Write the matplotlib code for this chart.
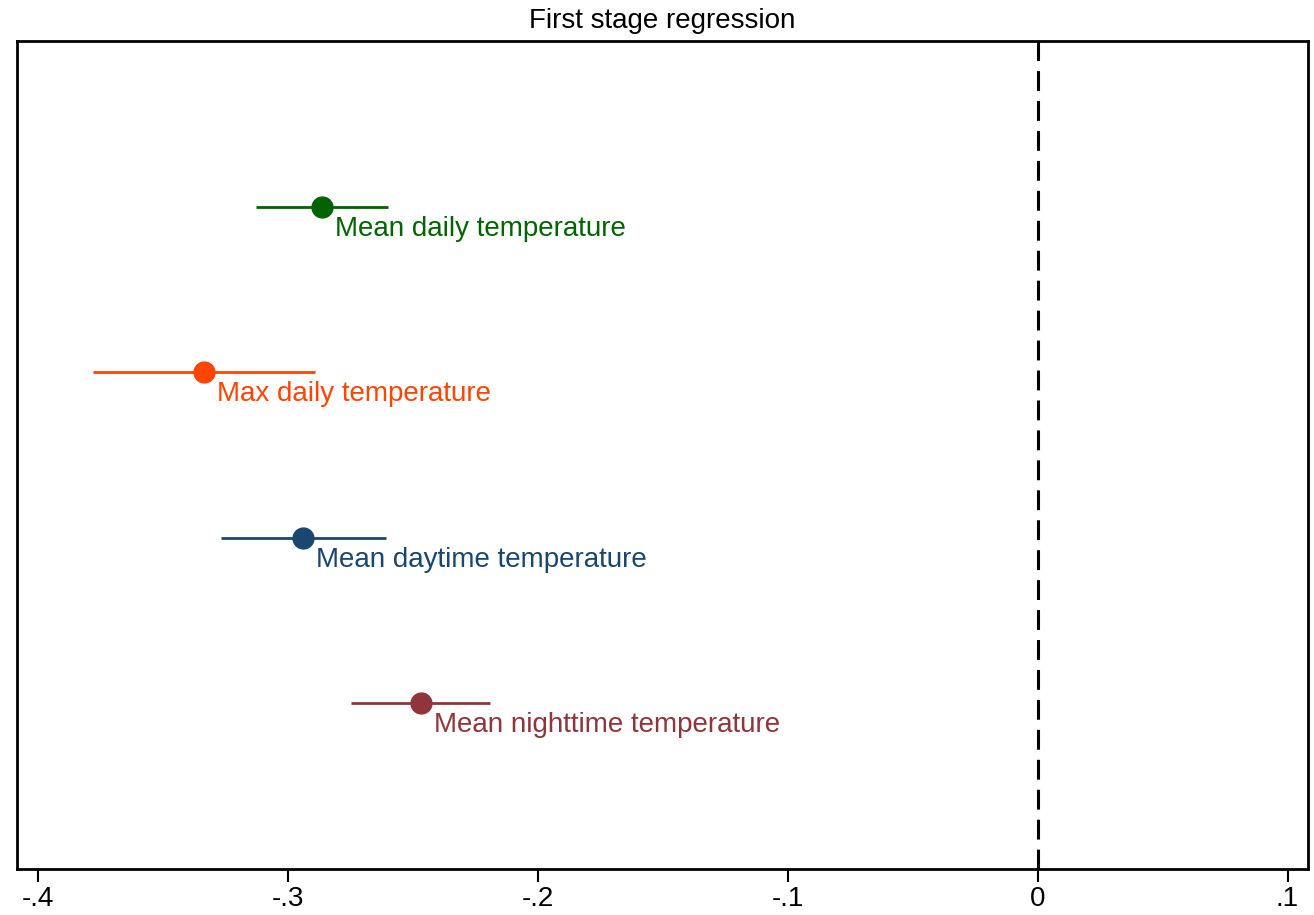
import matplotlib
matplotlib.use("Agg")
import matplotlib.pyplot as plt

plt.rcParams['font.family'] = ['Liberation Sans', 'DejaVu Sans']

# First-stage coefficients with 95% confidence intervals
labels = ["Mean daily temperature", "Max daily temperature",
          "Mean daytime temperature", "Mean nighttime temperature"]
coef = [-0.2862, -0.3334, -0.2938, -0.2466]
ci_low = [-0.3126, -0.3778, -0.3266, -0.2746]
ci_high = [-0.2598, -0.2890, -0.2606, -0.2190]
colors = ["#006400", "#ff4500", "#1a476f", "#90353b"]
ypos = [4, 3, 2, 1]

xticks = [-0.4, -0.3, -0.2, -0.1, 0.0, 0.1]
xticklabels = ["-.4", "-.3", "-.2", "-.1", "0", ".1"]

fig = plt.figure(figsize=(13.14, 9.15), dpi=100)
ax = fig.add_axes([0.01256, 0.0503, 0.9827, 0.9044])

ax.axvline(0, color="black", lw=2.2, dashes=(6.5, 3.3), zorder=1)

for lab, c, lo, hi, col, y in zip(labels, coef, ci_low, ci_high, colors, ypos):
    ax.plot([lo, hi], [y, y], color=col, lw=2.0, solid_capstyle="butt", zorder=2)
    ax.plot([c], [y], marker="o", ms=15, color=col, mec=col, zorder=3)
    ax.annotate(lab, xy=(c, y), xytext=(9.4, -15.8), textcoords="offset points",
                ha="left", va="center", color=col, fontsize=20)

ax.set_xlim(-0.4084, 0.1081)
ax.set_ylim(0, 5)
ax.set_yticks([])
ax.set_xticks(xticks)
ax.set_xticklabels(xticklabels, fontsize=20)
ax.tick_params(axis="x", length=9.4, width=1.5, pad=3, direction="out")

for s in ax.spines.values():
    s.set_linewidth(2.0)
    s.set_color("black")

ax.set_title("First stage regression", fontsize=20, pad=10)

fig.savefig("out.png", dpi=100, facecolor="white")
